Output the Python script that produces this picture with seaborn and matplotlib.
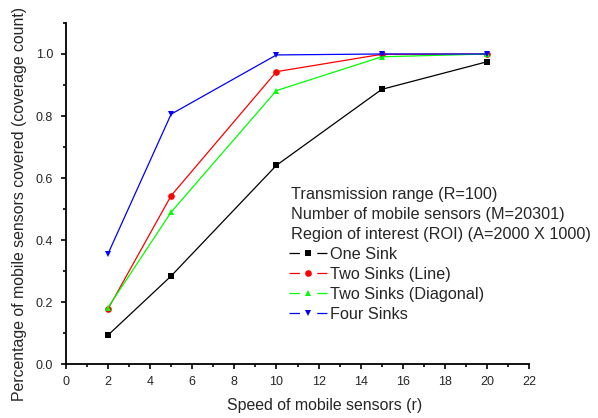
import matplotlib
matplotlib.use("Agg")
import matplotlib.pyplot as plt
import seaborn as sns
import pandas as pd
from matplotlib.ticker import MultipleLocator
from matplotlib.lines import Line2D

speeds = [2, 5, 10, 15, 20]
one_sink = [0.093, 0.284, 0.641, 0.886, 0.975]
two_line = [0.177, 0.543, 0.943, 0.999, 1.0]
two_diag = [0.182, 0.490, 0.882, 0.991, 1.0]
four_sinks = [0.355, 0.806, 0.997, 1.0, 1.0]
series_names = ["One Sink", "Two Sinks (Line)", "Two Sinks (Diagonal)", "Four Sinks"]
header_lines = ["Transmission range (R=100)",
                "Number of mobile sensors (M=20301)",
                "Region of interest (ROI) (A=2000 X 1000)"]

sns.set_theme(style="ticks")
plt.rcParams['font.family'] = ['Liberation Sans', 'DejaVu Sans']
plt.rcParams['lines.scale_dashes'] = False

df = pd.DataFrame({
    "speed": speeds * 4,
    "value": one_sink + two_line + two_diag + four_sinks,
    "series": [s for s in series_names for _ in speeds],
})

fig = plt.figure(figsize=(5.98, 4.18), dpi=100)
ax = fig.add_axes([0.110, 0.129, 0.775, 0.816])

colors = ["#000000", "#ff0000", "#00ff00", "#0000ff"]
markers = ["s", "o", "^", "v"]
for name, c, m in zip(series_names, colors, markers):
    sub = df[df.series == name]
    sns.lineplot(data=sub, x="speed", y="value", ax=ax, color=c, marker=m,
                 markersize=4.8, markeredgewidth=0, linewidth=0.9, legend=False)

ax.set_xlim(0, 22)
ax.set_ylim(0, 1.1)
ax.xaxis.set_major_locator(MultipleLocator(2))
ax.xaxis.set_minor_locator(MultipleLocator(1))
ax.yaxis.set_minor_locator(MultipleLocator(0.1))
ax.set_yticks([0, 0.2, 0.4, 0.6, 0.8, 1.0])
ax.set_yticklabels(["0.0", "0.2", "0.4", "0.6", "0.8", "1.0"])
ax.tick_params(which="major", direction="out", length=3.6, width=1.2, labelsize=9, color="black")
ax.tick_params(which="minor", direction="out", length=2.4, width=1.2, color="black")
ax.tick_params(axis="x", which="major", pad=5)
ax.tick_params(axis="y", which="major", pad=5.5)
for s in ["top", "right"]:
    ax.spines[s].set_visible(False)
for s in ["left", "bottom"]:
    ax.spines[s].set_linewidth(1.3)
    ax.spines[s].set_color("black")

ax.set_xlabel("Speed of mobile sensors (r)", fontsize=11.4, labelpad=7, x=0.558)
ax.set_ylabel("Percentage of mobile sensors covered (coverage count)", fontsize=11.4,
              labelpad=6, y=0.47)

for i, t in enumerate(header_lines):
    fig.text(291 / 598, 1 - (194.5 + i * 20) / 418, t, fontsize=11.7, va="center", ha="left")

handles = [Line2D([], [], color=c, marker=m, markersize=4.8, markeredgewidth=0,
                  linewidth=0.9, dashes=(7.5, 12.5, 9.0, 100))
           for c, m in zip(colors, markers)]
leg = ax.legend(handles, series_names, loc="upper left",
                bbox_to_anchor=((289 - 66) / 463, (364 - 246.5) / 341),
                frameon=False, fontsize=11.7, handlelength=2.35, handletextpad=0.2,
                labelspacing=0.32, borderpad=0, borderaxespad=0, numpoints=1)

fig.savefig("out.png", dpi=100)
